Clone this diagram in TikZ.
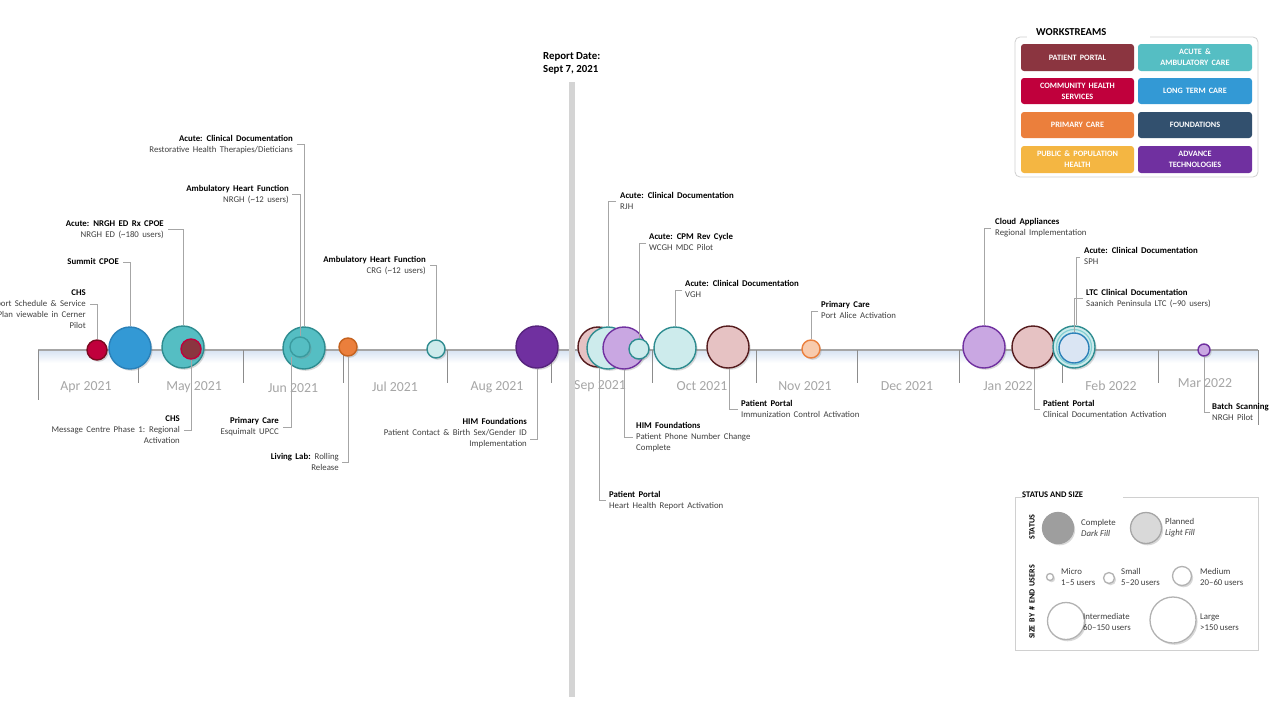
\documentclass[tikz,border=0pt]{standalone}
\usepackage{fontspec}
\setmainfont{Carlito}
\newfontfamily\lblfont{Carlito}[WordSpace=1.7]
\usetikzlibrary{shadows}
\definecolor{ppC}{HTML}{8B3540}
\definecolor{ppL}{HTML}{E6C2C3}
\definecolor{ppD}{HTML}{561C1E}
\definecolor{acC}{HTML}{55BEC3}
\definecolor{acL}{HTML}{CDEBEC}
\definecolor{acD}{HTML}{2E8C90}
\definecolor{chC}{HTML}{C0003C}
\definecolor{chD}{HTML}{7B0A20}
\definecolor{ltC}{HTML}{3399D5}
\definecolor{ltL}{HTML}{DAE5F3}
\definecolor{ltD}{HTML}{2A80B8}
\definecolor{prC}{HTML}{EB7F3C}
\definecolor{prL}{HTML}{F8CBAD}
\definecolor{prD}{HTML}{C5621E}
\definecolor{foC}{HTML}{32506E}
\definecolor{puC}{HTML}{F4B642}
\definecolor{avC}{HTML}{7030A0}
\definecolor{avL}{HTML}{C9A7E2}
\definecolor{avD}{HTML}{56237D}
\definecolor{subg}{HTML}{404040}
\definecolor{leadg}{HTML}{A6A6A6}
\definecolor{monthg}{HTML}{A6A6A6}
\definecolor{tickg}{HTML}{8C8C8C}
\definecolor{boxg}{HTML}{D0D0D0}
\begin{document}
\begin{tikzpicture}[x=1pt,y=-1pt,
  ev/.style={circle,inner sep=0pt,line width=1.4pt,
    drop shadow={shadow xshift=1.6pt,shadow yshift=-1.8pt,opacity=0.3}},
  rbig/.style={minimum size=42pt},
  rsm/.style={minimum size=20pt},
  rxs/.style={minimum size=18pt},
  rmic/.style={minimum size=12pt},
  chsF/.style={fill=chC,draw=chD},
  ltcF/.style={fill=ltC,draw=ltD},
  ltcP/.style={fill=ltL,draw=ltD},
  acF/.style={fill=acC,draw=acD},
  acP/.style={fill=acL,draw=acD},
  ppP/.style={fill=ppL,draw=ppD},
  prF/.style={fill=prC,draw=prD},
  prP/.style={fill=prL,draw=prC},
  avF/.style={fill=avC,draw=avD},
  avP/.style={fill=avL,draw=avC},
  lbl/.style={inner sep=0pt,font=\lblfont\fontsize{8.8}{11}\selectfont,text=subg},
  lblR/.style={lbl,align=right,anchor=north east},
  lblL/.style={lbl,align=left,anchor=north west},
  leader/.style={draw=leadg,line width=0.7pt},
  month/.style={inner sep=0pt,font=\fontsize{13.8}{15}\selectfont,text=monthg},
  tickm/.style={draw=tickg,line width=0.8pt},
  tile/.style={rounded corners=3pt,draw=none},
  tiletxt/.style={inner sep=0pt,align=center,text=white,font=\lblfont\fontsize{8.2}{11}\selectfont\bfseries},
  lgtxt/.style={inner sep=0pt,align=left,anchor=west,font=\fontsize{8.8}{11}\selectfont,text=subg},
  lgc/.style={circle,inner sep=0pt,line width=1.3pt,
    drop shadow={shadow xshift=1.6pt,shadow yshift=-1.8pt,opacity=0.3}},
  rotlbl/.style={inner sep=0pt,rotate=90,font=\lblfont\fontsize{8}{9}\selectfont\bfseries},
]
\newcommand{\ttl}[1]{{\bfseries\color{black}#1}}
\useasboundingbox (0,0) rectangle (1280,720);
\fill[white] (0,0) rectangle (1280,720);

% ---------- axis ----------
\shade[top color=ltL,bottom color=white] (38,351) rectangle (1258,363);
\draw[draw=leadg,line width=1.5pt] (38,350) -- (1258,350);
\foreach \tx in {138,243,343,447,551,652,756,857,959,1062,1158}
  \draw[tickm] (\tx,350) -- (\tx,383);
\draw[tickm] (38,350) -- (38,400);
\draw[tickm] (1258,350) -- (1258,425);

\node[month] (mApr) at (86,387) {Apr 2021};
\node[month] (mMay) at (194,387) {May 2021};
\node[month] (mJun) at (293,388) {Jun 2021};
\node[month] (mJul) at (395,387) {Jul 2021};
\node[month] (mAug) at (497,387) {Aug 2021};
\node[month] (mSep) at (600,386) {Sep 2021};
\node[month] (mOct) at (702,386) {Oct 2021};
\node[month] (mNov) at (805,386) {Nov 2021};
\node[month] (mDec) at (907,386) {Dec 2021};
\node[month] (mJan) at (1008,386) {Jan 2022};
\node[month] (mFeb) at (1111,386) {Feb 2022};
\node[month] (mMar) at (1205,383) {Mar 2022};

% ---------- report date ----------
\fill[black!17] (569,82) rectangle (575,697);
\node[inner sep=0pt,anchor=north west,align=left,font=\fontsize{10.8}{13}\selectfont\bfseries] (rdate) at (543,52) {Report Date:\\Sept 7, 2021};

% ---------- events ----------
\node[ev,rsm,chsF] (c1) at (97,350) {};
\node[ev,rbig,ltcF] (c2) at (130,348) {};
\node[ev,rbig,acF] (c3) at (183,347) {};
\node[ev,rsm,fill=ppC,draw=chC] (c4) at (191,349) {};
\node[ev,rbig,acF] (c5) at (304,348) {};
\node[ev,rsm,fill=acC,draw=acD!70!acC] (c5i) at (300,347) {};
\node[ev,rxs,prF] (c6) at (348,347) {};
\node[ev,rxs,acP] (c7) at (436,349) {};
\node[ev,rbig,avF] (c8) at (537,347) {};
\node[ev,minimum size=40pt,ppP] (c9a) at (598,347) {};
\node[ev,rbig,acP] (c9b) at (608,348) {};
\node[ev,rbig,avP] (c9c) at (624,348) {};
\node[ev,rsm,acP] (c9d) at (639,349) {};
\node[ev,rbig,acP] (c10) at (675,348) {};
\node[ev,rbig,ppP] (c11) at (728,347) {};
\node[ev,rxs,prP] (c12) at (811,349) {};
\node[ev,rbig,avP] (c13) at (984,347) {};
\node[ev,rbig,ppP] (c14) at (1033,347) {};
\node[ev,rbig,acP] (c15) at (1074,347) {};
\draw[acC!60!acL,line width=1.2pt] (c15.center) circle[radius=17.5pt];
\node[circle,inner sep=0pt,line width=1.4pt,minimum size=30pt,ltcP] (c15i) at (1074,348) {};
\node[ev,rmic,avP] (c16) at (1204,350) {};

% ---------- top labels ----------
\node[lblR] (t1) at (293,135.5) {\ttl{Acute: Clinical Documentation}\\Restorative Health Therapies/Dieticians};
\coordinate (k1) at (297,144);
\draw[leader] (k1) -| (c5.north);

\node[lblR] (t2) at (289,185.5) {\ttl{Ambulatory Heart Function}\\NRGH (\textasciitilde12 users)};
\coordinate (k2) at (292,194);
\draw[leader] (k2) -| (c5i.north);

\node[lblR] (t3) at (164,220.5) {\ttl{Acute: NRGH ED Rx CPOE}\\NRGH ED (\textasciitilde180 users)};
\coordinate (k3) at (168,229);
\draw[leader] (k3) -| (c3.north);

\node[lblR] (t4) at (119,258.5) {\ttl{Summit CPOE}};
\coordinate (k4) at (123,262);
\draw[leader] (k4) -| (c2.north);

\node[lblR] (t5) at (86,289.5) {\ttl{CHS}\\Report Schedule \& Service\\Plan viewable in Cerner\\Pilot};
\coordinate (k5) at (90,304);
\draw[leader] (k5) -| (c1.north);

\node[lblR] (t6) at (426,256.5) {\ttl{Ambulatory Heart Function}\\CRG (\textasciitilde12 users)};
\coordinate (k6) at (430,265);
\draw[leader] (k6) -| (c7.north);

\node[lblL] (t7) at (620,192.5) {\ttl{Acute: Clinical Documentation}\\RJH};
\coordinate (k7) at (616,201);
\draw[leader] (k7) -| (c9b.north);

\node[lblL] (t8) at (649,233.5) {\ttl{Acute: CPM Rev Cycle}\\WCGH MDC Pilot};
\coordinate (k8) at (646,243);
\draw[leader] (k8) -| (c9d.north);

\node[lblL] (t9) at (685,280.5) {\ttl{Acute: Clinical Documentation}\\VGH};
\coordinate (k9) at (682,290);
\draw[leader] (k9) -| (c10.north);

\node[lblL] (t10) at (821,301.5) {\ttl{Primary Care}\\Port Alice Activation};
\coordinate (k10) at (818,311);
\draw[leader] (k10) -| (c12.north);

\node[lblL] (t11) at (995,218.5) {\ttl{Cloud Appliances}\\Regional Implementation};
\coordinate (k11) at (991,228);
\draw[leader] (k11) -| (c13.north);

\node[lblL] (t12) at (1084,247.5) {\ttl{Acute: Clinical Documentation}\\SPH};
\coordinate (k12) at (1080,257);
\draw[leader] (k12) -| ([xshift=2pt]c15.north);

\node[lblL] (t13) at (1086,289.5) {\ttl{LTC Clinical Documentation}\\Saanich Peninsula LTC (\textasciitilde90 users)};
\coordinate (k13) at (1083,298);
\draw[leader] (k13) -| (c15i.north);

% ---------- bottom labels ----------
\node[lblR] (b1) at (180,415.5) {\ttl{CHS}\\Message Centre Phase 1: Regional\\Activation};
\coordinate (q1) at (184,430);
\draw[leader] (c4.south) |- (q1);

\node[lblR] (b2) at (279,417.5) {\ttl{Primary Care}\\Esquimalt UPCC};
\coordinate (q2) at (283,427);
\coordinate (e2) at (291,357);
\draw[leader] (e2) |- (q2);

\node[lblR] (b3) at (339,453.5) {\ttl{Living Lab:} Rolling\\Release};
\coordinate (q3) at (342,462);
\draw[leader] (c6.south) |- (q3);

\node[lblR] (b4) at (527,418.5) {\ttl{HIM Foundations}\\Patient Contact \& Birth Sex/Gender ID\\Implementation};
\coordinate (q4) at (530,439);
\draw[leader] (c8.south) |- (q4);

\node[lblL] (b5) at (609,491.5) {\ttl{Patient Portal}\\Heart Health Report Activation};
\coordinate (q5) at (606,500);
\draw[leader] ([xshift=1pt]c9a.south) |- (q5);

\node[lblL] (b6) at (636,422.5) {\ttl{HIM Foundations}\\Patient Phone Number Change\\Complete};
\coordinate (q6) at (633,437);
\draw[leader] (c9c.south) |- (q6);

\node[lblL] (b7) at (741,400.5) {\ttl{Patient Portal}\\Immunization Control Activation};
\coordinate (q7) at (738,409);
\draw[leader] ([xshift=1pt]c11.south) |- (q7);

\node[lblL] (b8) at (1043,400.5) {\ttl{Patient Portal}\\Clinical Documentation Activation};
\coordinate (q8) at (1040,409);
\draw[leader] ([xshift=1pt]c14.south) |- (q8);

\node[lblL] (b9) at (1212,403.5) {\ttl{Batch Scanning}\\NRGH Pilot};
\coordinate (q9) at (1210,412);
\draw[leader] (c16.south) |- (q9);

% ---------- workstreams legend ----------
\draw[boxg,line width=0.8pt,rounded corners=5pt] (1015,37) rectangle (1258,177);
\fill[white] (1027,34) rectangle (1150,40);
\node[inner sep=0pt,anchor=west,font=\fontsize{10.6}{12}\selectfont\bfseries] (wsT) at (1036,32) {WORKSTREAMS};
\fill[tile,ppC] (1021,44) rectangle (1134,71);
\node[tiletxt] (w1) at (1077.5,57.5) {PATIENT PORTAL};
\fill[tile,acC] (1138,44) rectangle (1252,71);
\node[tiletxt] (w2) at (1195,57.5) {ACUTE \&\\AMBULATORY CARE};
\fill[tile,chC] (1021,78) rectangle (1134,104);
\node[tiletxt] (w3) at (1077.5,91) {COMMUNITY HEALTH\\SERVICES};
\fill[tile,ltC] (1138,78) rectangle (1252,104);
\node[tiletxt] (w4) at (1195,91) {LONG TERM CARE};
\fill[tile,prC] (1021,112) rectangle (1134,138);
\node[tiletxt] (w5) at (1077.5,125) {PRIMARY CARE};
\fill[tile,foC] (1138,112) rectangle (1252,138);
\node[tiletxt] (w6) at (1195,125) {FOUNDATIONS};
\fill[tile,puC] (1021,146) rectangle (1134,173);
\node[tiletxt] (w7) at (1077.5,159.5) {PUBLIC \& POPULATION\\HEALTH};
\fill[tile,avC] (1138,146) rectangle (1252,173);
\node[tiletxt] (w8) at (1195,159.5) {ADVANCE\\TECHNOLOGIES};

% ---------- status and size legend ----------
\draw[boxg,line width=0.8pt] (1015,497) rectangle (1258,650);
\fill[white] (1025,494) rectangle (1123,500);
\node[inner sep=0pt,anchor=west,font=\fontsize{8.6}{10}\selectfont\bfseries] (ssT) at (1022,494.5) {STATUS AND SIZE};
\node[rotlbl] (sS) at (1032,527) {STATUS};
\node[rotlbl] (sZ) at (1032,602) {SIZE BY \# END USERS};
\node[lgc,minimum size=31pt,fill=black!38,draw=black!38] (s1) at (1058,528) {};
\node[lgtxt] (s1t) at (1081,527.5) {Complete\\\textit{Dark Fill}};
\node[lgc,minimum size=31pt,fill=black!15,draw=black!35] (s2) at (1146,528) {};
\node[lgtxt] (s2t) at (1165,527.5) {Planned\\\textit{Light Fill}};
\node[lgc,minimum size=7pt,fill=white,draw=black!30] (z1) at (1050,577) {};
\node[lgtxt] (z1t) at (1061,576.5) {Micro\\1–5 users};
\node[lgc,minimum size=11pt,fill=white,draw=black!30] (z2) at (1109,578) {};
\node[lgtxt] (z2t) at (1121,576.5) {Small\\5–20 users};
\node[lgc,minimum size=19pt,fill=white,draw=black!30] (z3) at (1182,576) {};
\node[lgtxt] (z3t) at (1200,576.5) {Medium\\20–60 users};
\node[lgc,minimum size=37pt,fill=white,draw=black!30] (z4) at (1066,621) {};
\node[lgtxt] (z4t) at (1083,622) {Intermediate\\60–150 users};
\node[lgc,minimum size=46pt,fill=white,draw=black!30] (z5) at (1173,620) {};
\node[lgtxt] (z5t) at (1200,622) {Large\\>150 users};
\end{tikzpicture}
\end{document}
